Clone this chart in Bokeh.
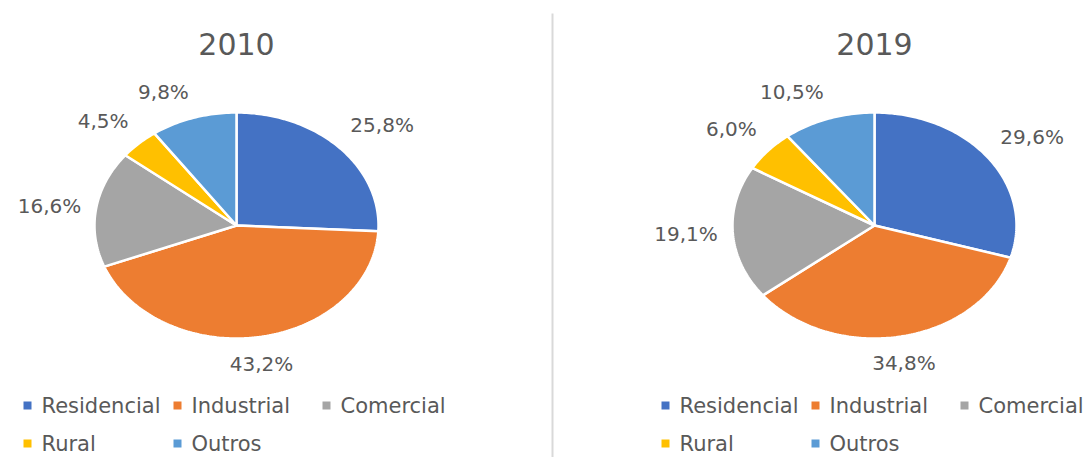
import numpy as np
from bokeh.plotting import figure
from bokeh.models import Range1d, ColumnDataSource
from bokeh.core.properties import value
from bokeh.embed import file_html
from bokeh.resources import INLINE

# Energy consumption share by class
categories = ["Residencial", "Industrial", "Comercial", "Rural", "Outros"]
years = ["2010", "2019"]
share_2010 = [25.8, 43.2, 16.6, 4.5, 9.8]
share_2019 = [29.6, 34.8, 19.1, 6.0, 10.5]
colors = ["#4472C4", "#ED7D31", "#A5A5A5", "#FFC000", "#5B9BD5"]

W, H = 1087, 457
FONT = "DejaVu Sans"
TXT = "#595959"

# panel layout (screen units: x right, y down)
panel_dx = 638
cx0, cy = 236, 225
rx, ry = 142, 113
gap = 15

p = figure(width=W, height=H, x_range=Range1d(0, W), y_range=Range1d(H, 0),
           output_backend="svg", toolbar_location=None, min_border=0,
           background_fill_color="white", border_fill_color="white")
p.axis.visible = False
p.grid.visible = False
p.outline_line_color = None


def fmt(v):
    return f"{v:.1f}".replace(".", ",") + "%"


for k, (year, shares) in enumerate(zip(years, [share_2010, share_2019])):
    cx = cx0 + k * panel_dx
    vals = np.array(shares, dtype=float)
    frac = vals / vals.sum()
    bounds = np.concatenate([[0.0], np.cumsum(frac)]) * 2 * np.pi

    xs, ys = [], []
    lx, ly, la, lb, lt = [], [], [], [], []
    for i in range(len(vals)):
        a0, a1 = bounds[i], bounds[i + 1]
        n = max(int((a1 - a0) / (2 * np.pi) * 360), 4)
        t = np.linspace(a0, a1, n)
        xs.append(np.concatenate([[cx], cx + rx * np.sin(t)]).tolist())
        ys.append(np.concatenate([[cy], cy - ry * np.cos(t)]).tolist())

        # label anchored just outside the slice's mid-angle
        m = 0.5 * (a0 + a1)
        s, c = np.sin(m), np.cos(m)
        lx.append(cx + (rx + gap) * s)
        ly.append(cy - (ry + gap) * c)
        la.append("left" if s > 0.35 else ("right" if s < -0.2 else "center"))
        lb.append("bottom" if c > 0.5 else ("top" if c < -0.7 else "middle"))
        lt.append(fmt(vals[i]))

    p.patches(xs=xs, ys=ys, fill_color=colors, line_color="white", line_width=2.5)

    src = ColumnDataSource(dict(x=lx, y=ly, text=lt, align=la, base=lb))
    p.text(x="x", y="y", text="text", source=src, text_align="align",
           text_baseline="base", text_font=value(FONT), text_font_size="20px",
           text_color=TXT)

    # title
    p.text(x=[cx], y=[43], text=[year], text_align="center", text_baseline="middle",
           text_font=value(FONT), text_font_size="30px", text_color=TXT)

    # legend: two rows
    col_x = [23, 173, 322]
    row_y = [405, 443]
    for j, name in enumerate(categories):
        r, col = divmod(j, 3)
        sx = col_x[col] + k * panel_dx
        p.scatter(x=[sx + 4], y=[row_y[r]], marker="square", size=8,
                  fill_color=colors[j], line_color=None)
        p.text(x=[sx + 18], y=[row_y[r]], text=[name], text_align="left",
               text_baseline="middle", text_font=value(FONT),
               text_font_size="21px", text_color=TXT)

# divider between the two panels
p.segment(x0=[552], y0=[13], x1=[552], y1=[H], line_color="#D9D9D9", line_width=2)

open("out.html", "w").write(file_html(p, INLINE))
